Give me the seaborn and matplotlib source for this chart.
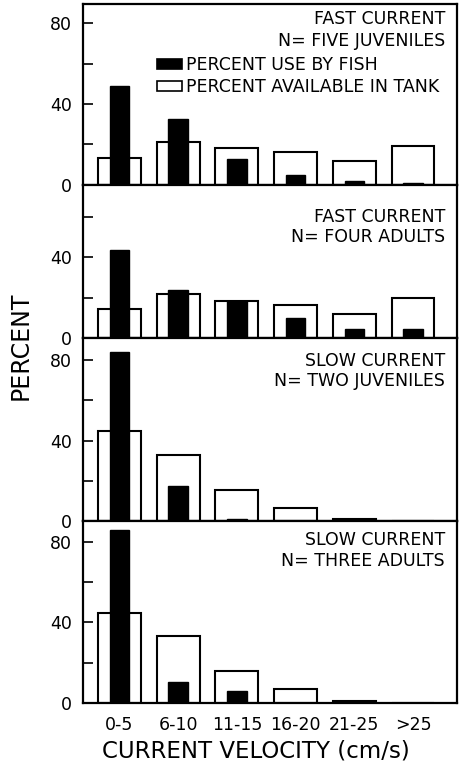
import matplotlib
matplotlib.use('Agg')
import matplotlib.pyplot as plt
from matplotlib.patches import Patch
import seaborn as sns
import pandas as pd

# velocity classes (cm/s)
categories = ['0-5', '6-10', '11-15', '16-20', '21-25', '>25']

# percent use by fish / percent available in tank, one pair per panel
use_fast_juv = [48.8, 32.7, 12.7, 4.6, 1.7, 1.0]
avail_fast_juv = [13.2, 21.2, 18.2, 16.0, 11.6, 19.2]
use_fast_adu = [43.8, 23.7, 18.3, 9.8, 4.6, 4.6]
avail_fast_adu = [14.2, 21.5, 18.3, 16.3, 11.9, 19.6]
use_slow_juv = [84.0, 17.5, 1.0, 0.0, 0.0, 0.0]
avail_slow_juv = [44.6, 33.1, 15.5, 6.9, 1.1, 0.0]
use_slow_adu = [85.8, 10.2, 5.9, 0.0, 0.0, 0.0]
avail_slow_adu = [44.7, 33.3, 15.9, 7.0, 1.0, 0.0]

panel_titles = [('FAST CURRENT', 'N= FIVE JUVENILES'),
                ('FAST CURRENT', 'N= FOUR ADULTS'),
                ('SLOW CURRENT', 'N= TWO JUVENILES'),
                ('SLOW CURRENT', 'N= THREE ADULTS')]

sns.set_style('white')
plt.rcParams['font.family'] = ['DejaVu Sans']
plt.rcParams['text.color'] = 'black'
plt.rcParams['axes.labelcolor'] = 'black'
plt.rcParams['xtick.color'] = 'black'
plt.rcParams['ytick.color'] = 'black'

panels = [(use_fast_juv, avail_fast_juv), (use_fast_adu, avail_fast_adu),
          (use_slow_juv, avail_slow_juv), (use_slow_adu, avail_slow_adu)]
ytops = [89.5, 76, 91, 90]
title_offsets = [(15, 37), (32, 52), (23, 43), (19, 40)]
fs = 12.5

fig = plt.figure(figsize=(4.62, 7.66), dpi=100)
gs = fig.add_gridspec(4, 1, height_ratios=ytops, hspace=0,
                      left=83 / 462, right=457 / 462,
                      top=1 - 4 / 766, bottom=1 - 703 / 766)

for i, ((use, avail), ytop) in enumerate(zip(panels, ytops)):
    ax = fig.add_subplot(gs[i])
    df = pd.DataFrame({'velocity': categories, 'use': use, 'avail': avail})
    sns.barplot(data=df, x='velocity', y='avail', order=categories, color='white',
                saturation=1, width=0.73, edgecolor='black', linewidth=1.5, ax=ax)
    sns.barplot(data=df, x='velocity', y='use', order=categories, color='black',
                saturation=1, width=0.33, edgecolor='black', linewidth=1.0, ax=ax)
    ax.set_xlim(-0.62, 5.75)
    ax.set_yticks([0, 20, 40, 60, 80])
    ax.set_yticklabels(['0', '', '40', '', '80'])
    ax.set_ylim(0, ytop)
    ax.tick_params(axis='y', direction='in', length=7, width=1.2, pad=8, labelsize=fs, left=True)
    ax.set_xlabel('')
    ax.set_ylabel('')
    for sp in ax.spines.values():
        sp.set_linewidth(1.6)
        sp.set_color('black')
        sp.set_visible(True)
    if i < 3:
        ax.tick_params(axis='x', length=0, labelbottom=False)
    else:
        ax.tick_params(axis='x', length=0, pad=9, labelsize=fs)

    l1, l2 = panel_titles[i]
    o1, o2 = title_offsets[i]
    ax.annotate(l1, xy=(1, 1), xycoords='axes fraction', xytext=(-12, -o1),
                textcoords='offset pixels', ha='right', va='center', fontsize=fs)
    ax.annotate(l2, xy=(1, 1), xycoords='axes fraction', xytext=(-12, -o2),
                textcoords='offset pixels', ha='right', va='center', fontsize=fs)

    if i == 0:
        handles = [Patch(facecolor='black', edgecolor='black', linewidth=1.2),
                   Patch(facecolor='white', edgecolor='black', linewidth=1.2)]
        ax.legend(handles, ['PERCENT USE BY FISH', 'PERCENT AVAILABLE IN TANK'],
                  loc='upper left', bbox_to_anchor=(0.198, 0.71), frameon=False,
                  fontsize=fs, handlelength=1.45, handleheight=0.52,
                  handletextpad=0.2, labelspacing=0.2, borderpad=0, borderaxespad=0)

fig.text(21 / 462, 1 - 346 / 766, 'PERCENT', rotation=90, ha='center', va='center', fontsize=17)
fig.text(256 / 462, 1 - 758 / 766, 'CURRENT VELOCITY (cm/s)', ha='center', va='baseline',
         fontsize=16.5)

fig.savefig('out.png', dpi=100)
